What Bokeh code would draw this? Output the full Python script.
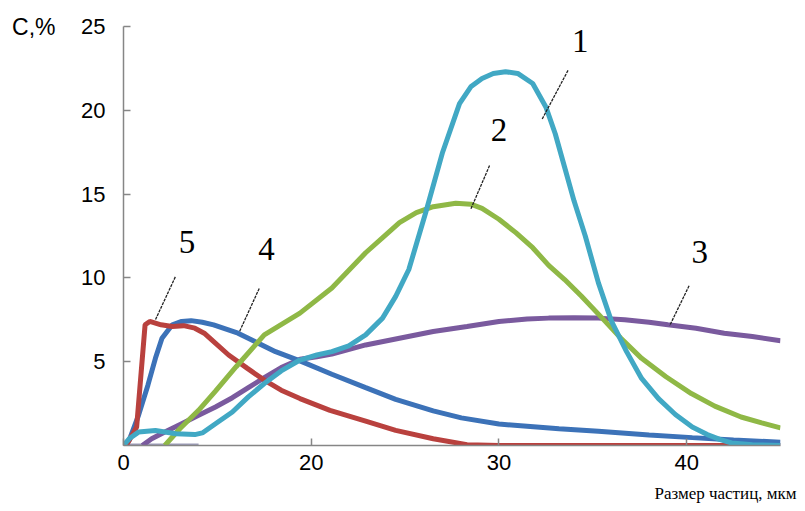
from bokeh.plotting import figure
from bokeh.models import FixedTicker, Title, Range1d, LinearAxis
from bokeh.core.properties import value
from bokeh.embed import file_html
from bokeh.resources import INLINE

# ---- data ----
x1 = [10, 10.3, 10.8, 11.7, 12.8, 13.8, 14.2, 14.9, 15.8, 16.65, 17.5, 18.4, 19.4, 20.3, 21.1, 22.0, 22.9, 23.8, 24.5, 25.2, 26.1, 27.0, 27.9, 28.5, 29.1, 29.7, 30.35, 31.0, 31.8, 32.5, 33.0, 33.5, 34.0, 34.6, 35.3, 36.0, 36.8, 37.6, 38.5, 39.4, 40.3, 41.1, 41.8, 42.4, 43.5, 45]
y1 = [0, 0.4, 0.8, 0.9, 0.7, 0.65, 0.75, 1.3, 2.0, 2.9, 3.7, 4.45, 5.1, 5.4, 5.6, 5.95, 6.6, 7.6, 8.9, 10.5, 13.9, 17.5, 20.4, 21.4, 21.9, 22.2, 22.3, 22.2, 21.6, 20.2, 18.6, 16.6, 14.6, 12.5, 9.7, 7.4, 5.6, 4.0, 2.8, 1.85, 1.1, 0.65, 0.35, 0.15, 0.05, 0]

x2 = [12.2, 13.0, 14.0, 14.9, 16.0, 17.5, 19.4, 21.1, 22.9, 24.0, 24.7, 25.6, 26.5, 27.7, 28.5, 29.1, 30.0, 30.9, 31.8, 32.65, 33.5, 34.4, 35.5, 36.5, 37.6, 38.9, 40.25, 41.5, 42.9, 44.0, 45]
y2 = [0, 1.0, 2.1, 3.25, 4.7, 6.6, 7.9, 9.4, 11.5, 12.6, 13.3, 13.9, 14.25, 14.45, 14.4, 14.15, 13.5, 12.7, 11.8, 10.75, 9.9, 8.9, 7.6, 6.4, 5.2, 4.1, 3.1, 2.35, 1.7, 1.35, 1.05]

x3 = [11.0, 11.5, 12.2, 13.1, 14.0, 14.9, 15.8, 16.65, 17.5, 18.4, 19.4, 20.3, 21.1, 22.9, 24.7, 26.5, 28.3, 30.0, 31.5, 32.65, 34.0, 35.3, 36.7, 38.0, 39.0, 40.5, 42.0, 43.5, 45]
y3 = [0, 0.4, 0.8, 1.3, 1.8, 2.3, 2.85, 3.45, 4.05, 4.65, 5.15, 5.3, 5.45, 6.0, 6.4, 6.8, 7.1, 7.4, 7.55, 7.6, 7.62, 7.6, 7.5, 7.35, 7.2, 7.0, 6.7, 6.5, 6.25]

x4 = [10, 10.3, 10.8, 11.3, 11.7, 12.05, 12.6, 13.1, 13.6, 14.2, 14.8, 16.1, 17.0, 18.1, 19.4, 21.1, 22.9, 24.5, 26.5, 28.0, 30.0, 31.5, 33.2, 35.3, 38.0, 40.3, 42.5, 45]
y4 = [0, 0.3, 1.8, 3.6, 5.2, 6.4, 7.2, 7.4, 7.45, 7.35, 7.2, 6.7, 6.2, 5.6, 5.05, 4.25, 3.45, 2.75, 2.07, 1.65, 1.28, 1.15, 1.0, 0.85, 0.62, 0.47, 0.33, 0.2]

x5 = [10, 10.2, 10.7, 11.15, 11.4, 12.0, 12.6, 13.2, 13.8, 14.3, 14.7, 15.6, 16.6, 17.5, 18.4, 19.4, 21.0, 22.9, 24.5, 26.5, 28.3, 30.0, 45]
y5 = [0, 0.1, 1.1, 7.2, 7.4, 7.2, 7.1, 7.15, 7.0, 6.7, 6.3, 5.4, 4.6, 3.9, 3.3, 2.8, 2.1, 1.45, 0.9, 0.4, 0.05, 0, 0]

base_x = [10, 14]
base_y = [0, 0]

lab_text = ["1", "2", "3", "4", "5"]
lab_x = [34.33, 30.0, 40.7, 17.62, 13.38]
lab_y = [24.16, 18.83, 11.54, 11.73, 12.13]
lead_x0 = [33.68, 29.5, 40.13, 17.23, 12.76]
lead_y0 = [22.38, 16.7, 9.53, 9.37, 10.06]
lead_x1 = [32.3, 28.5, 39.1, 16.17, 11.7]
lead_y1 = [19.47, 14.1, 7.16, 6.77, 7.5]

x_ticks = [10, 20, 30, 40]
x_tick_labels = {10: "0", 20: "20", 30: "30", 40: "40"}
y_ticks = [5, 10, 15, 20, 25]

colors = {1: "#41a8c4", 2: "#8fb846", 3: "#7a5a9e", 4: "#3c72b8", 5: "#b9413e"}

p = figure(width=797, height=511, output_backend="svg", toolbar_location=None,
           x_range=Range1d(10, 45), y_range=Range1d(0, 25),
           min_border_left=123, min_border_right=17, min_border_top=26, min_border_bottom=66)
p.outline_line_color = None
p.grid.visible = False
p.background_fill_color = "white"
p.extra_y_ranges = {"unit": Range1d(0, 25)}

for ax in (p.xaxis[0], p.yaxis[0]):
    ax.axis_line_color = "#868686"
    ax.axis_line_width = 1.5
    ax.major_tick_line_color = "#868686"
    ax.major_tick_line_width = 1.5
    ax.major_tick_in = 7
    ax.major_tick_out = 0
    ax.minor_tick_line_color = None
    ax.major_label_text_font = "Liberation Sans"
    ax.major_label_text_font_size = "22px"
    ax.major_label_text_color = "black"

p.xaxis.ticker = FixedTicker(ticks=x_ticks)
p.xaxis.major_label_overrides = x_tick_labels
p.xaxis.major_label_standoff = 9
p.yaxis.ticker = FixedTicker(ticks=y_ticks)
p.yaxis.major_label_standoff = 18

# "C,%" unit label, shown as a second (bare) left axis label at the top
unit_ax = LinearAxis(y_range_name="unit", ticker=FixedTicker(ticks=[25]),
                     major_label_overrides={25: "C,%"},
                     axis_line_color=None, major_tick_line_color=None,
                     minor_tick_line_color=None, major_tick_in=0, major_tick_out=0,
                     major_label_standoff=23, major_label_text_font="Liberation Sans",
                     major_label_text_font_size="23px", major_label_text_color="black")
p.add_layout(unit_ax, "left")

p.line(base_x, base_y, line_color="#9b9bb8", line_width=4)
p.line(x3, y3, line_color=colors[3], line_width=5)
p.line(x4, y4, line_color=colors[4], line_width=5)
p.line(x5, y5, line_color=colors[5], line_width=5)
p.line(x2, y2, line_color=colors[2], line_width=5)
p.line(x1, y1, line_color=colors[1], line_width=5)

p.segment(lead_x0, lead_y0, lead_x1, lead_y1, line_color="#222222", line_width=1.3, line_dash="3 1")
p.text(lab_x, lab_y, text=lab_text, text_font=value("Liberation Serif"), text_font_size="33px",
       text_align="center", text_baseline="middle", text_color="black")

xt = Title(text="Размер частиц, мкм", align="right", offset=-16, standoff=18,
           text_font="Liberation Serif", text_font_size="17px",
           text_font_style="normal", text_color="black")
p.add_layout(xt, "below")

open("out.html", "w").write(file_html(p, INLINE))
